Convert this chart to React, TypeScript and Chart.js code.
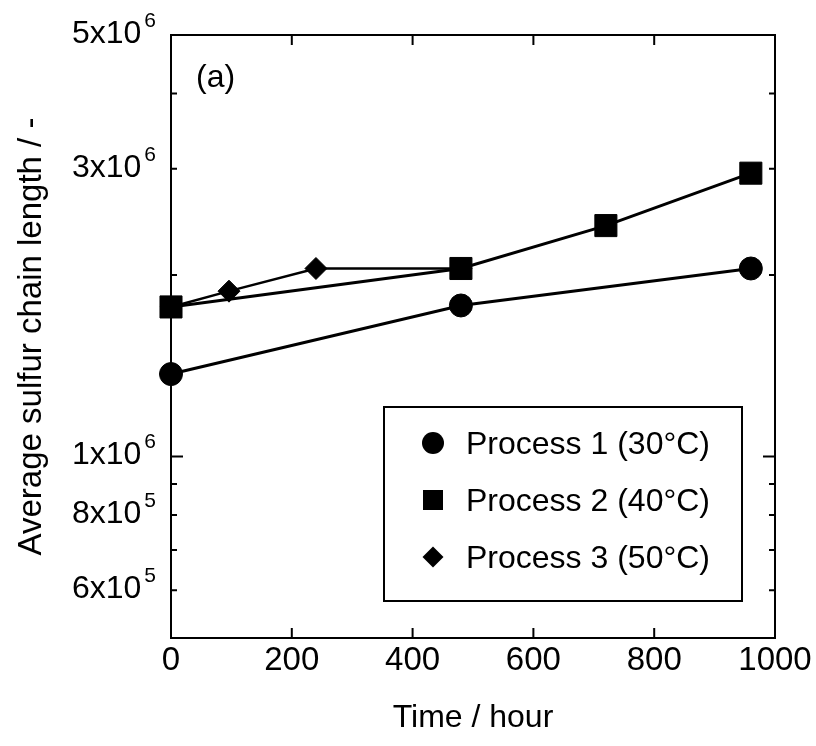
import React, { useEffect, useRef } from 'react';
import { Chart, registerables } from 'chart.js';

Chart.register(...registerables);

// ---- data ----
const hours1 = [0, 480, 960];
const process1 = [1.37e6, 1.78e6, 2.05e6];
const hours2 = [0, 480, 720, 960];
const process2 = [1.77e6, 2.05e6, 2.415e6, 2.95e6];
const hours3 = [0, 96, 240, 480];
const process3 = [1.77e6, 1.88e6, 2.05e6, 2.05e6];
const seriesLabels = ['Process 1 (30°C)', 'Process 2 (40°C)', 'Process 3 (50°C)'];
const seriesStyles = ['circle', 'rect', 'rectRot'];

const xTickValues = [0, 200, 400, 600, 800, 1000];
const yLabelValues = [6e5, 8e5, 1e6, 3e6, 5e6];
const yMajorTicks = [1e6];
const yMinorTicks = [6e5, 7e5, 8e5, 9e5, 2e6, 3e6, 4e6];
const panelTag = '(a)';
const xTitle = 'Time / hour';
const yTitle = 'Average sulfur chain length / -';

const FONT = '"Liberation Sans", Arial, Helvetica, sans-serif';

function drawMarker(ctx: CanvasRenderingContext2D, style: string, x: number, y: number, r: number) {
  ctx.beginPath();
  if (style === 'circle') {
    ctx.arc(x, y, r, 0, Math.PI * 2);
  } else if (style === 'rect') {
    ctx.rect(x - r, y - r, 2 * r, 2 * r);
  } else {
    ctx.moveTo(x - r, y);
    ctx.lineTo(x, y - r);
    ctx.lineTo(x + r, y);
    ctx.lineTo(x, y + r);
    ctx.closePath();
  }
  ctx.fill();
}

const framePlugin = {
  id: 'framePlugin',
  beforeDatasetsDraw(chart: any) {
    const { ctx, chartArea: a, scales } = chart;
    const xs = scales.x;
    const ys = scales.y;
    ctx.save();
    ctx.strokeStyle = '#000';
    ctx.lineWidth = 2;
    ctx.strokeRect(a.left, a.top, a.right - a.left, a.bottom - a.top);
    ctx.beginPath();
    for (const v of xTickValues) {
      if (v <= xs.min || v >= xs.max) continue;
      const px = xs.getPixelForValue(v);
      ctx.moveTo(px, a.bottom);
      ctx.lineTo(px, a.bottom - 10);
      ctx.moveTo(px, a.top);
      ctx.lineTo(px, a.top + 10);
    }
    for (const v of yMajorTicks) {
      const py = ys.getPixelForValue(v);
      ctx.moveTo(a.left, py);
      ctx.lineTo(a.left + 12, py);
      ctx.moveTo(a.right, py);
      ctx.lineTo(a.right - 12, py);
    }
    for (const v of yMinorTicks) {
      const py = ys.getPixelForValue(v);
      ctx.moveTo(a.left, py);
      ctx.lineTo(a.left + 6, py);
      ctx.moveTo(a.right, py);
      ctx.lineTo(a.right - 6, py);
    }
    ctx.stroke();
    ctx.restore();
  },
  afterDraw(chart: any) {
    const { ctx, scales } = chart;
    const ys = scales.y;
    ctx.save();
    ctx.fillStyle = '#000';
    // y tick labels with superscript exponent
    for (const v of yLabelValues) {
      const exp = Math.floor(Math.log10(v) + 1e-9);
      const mant = Math.round(v / Math.pow(10, exp));
      const py = ys.getPixelForValue(v);
      ctx.font = `21px ${FONT}`;
      const supText = String(exp);
      const supW = ctx.measureText(supText).width;
      const rightEdge = 156;
      ctx.textAlign = 'left';
      ctx.textBaseline = 'alphabetic';
      ctx.fillText(supText, rightEdge - supW, py - 8);
      ctx.font = `32px ${FONT}`;
      ctx.textAlign = 'right';
      ctx.fillText(`${mant}x10`, rightEdge - supW - 3, py + 8);
    }
    // panel tag
    ctx.font = `32px ${FONT}`;
    ctx.textAlign = 'left';
    ctx.textBaseline = 'alphabetic';
    ctx.fillText(panelTag, 196, 87);

    // legend box
    const lx = 384, ly = 407, lw = 358, lh = 194;
    ctx.fillStyle = '#fff';
    ctx.fillRect(lx, ly, lw, lh);
    ctx.strokeStyle = '#000';
    ctx.lineWidth = 2;
    ctx.strokeRect(lx, ly, lw, lh);
    ctx.fillStyle = '#000';
    const rows = [443, 500, 557];
    const sizes: Record<string, number> = { circle: 11, rect: 10, rectRot: 10.5 };
    chart.data.datasets.forEach((ds: any, i: number) => {
      const y = rows[i];
      drawMarker(ctx, ds.pointStyle, 433, y, sizes[ds.pointStyle]);
      ctx.font = `32px ${FONT}`;
      ctx.textAlign = 'left';
      ctx.textBaseline = 'alphabetic';
      ctx.fillText(ds.label, 466, y + 11);
    });
    ctx.restore();
  },
};

export default function App() {
  const canvasRef = useRef<HTMLCanvasElement | null>(null);

  useEffect(() => {
    const canvas = canvasRef.current;
    if (!canvas) return;
    const mk = (hs: number[], vs: number[]) => hs.map((h, i) => ({ x: h, y: vs[i] }));
    const chart = new Chart(canvas, {
      type: 'line',
      data: {
        datasets: [
          {
            label: seriesLabels[0],
            data: mk(hours1, process1),
            borderColor: '#000',
            backgroundColor: '#000',
            borderWidth: 3,
            pointStyle: seriesStyles[0],
            pointRadius: 11.5,
            pointBorderWidth: 1,
            pointBorderColor: '#000',
            pointBackgroundColor: '#000',
            order: 1,
            clip: false,
          } as any,
          {
            label: seriesLabels[1],
            data: mk(hours2, process2),
            borderColor: '#000',
            backgroundColor: '#000',
            borderWidth: 3,
            pointStyle: seriesStyles[1],
            pointRadius: 15.6,
            pointBorderWidth: 1,
            pointBorderColor: '#000',
            pointBackgroundColor: '#000',
            order: 2,
            clip: false,
          } as any,
          {
            label: seriesLabels[2],
            data: mk(hours3, process3),
            borderColor: '#000',
            backgroundColor: '#000',
            borderWidth: 2.5,
            pointStyle: seriesStyles[2],
            pointRadius: 11,
            pointBorderWidth: 1,
            pointBorderColor: '#000',
            pointBackgroundColor: '#000',
            order: 3,
            clip: false,
          } as any,
        ],
      },
      options: {
        responsive: false,
        animation: false,
        devicePixelRatio: 1,
        layout: { padding: { top: 35, right: 41, bottom: 0, left: 0 } },
        plugins: {
          legend: { display: false },
          tooltip: { enabled: false },
        },
        events: [],
        scales: {
          x: {
            type: 'linear',
            min: 0,
            max: 1000,
            grid: { display: false, drawTicks: false },
            border: { display: false },
            ticks: {
              stepSize: 200,
              color: '#000',
              font: { size: 33, family: FONT },
              padding: 3,
              maxRotation: 0,
              autoSkip: false,
              callback: (v: any) => String(v),
            },
            title: {
              display: true,
              text: xTitle,
              color: '#000',
              font: { size: 32, family: FONT },
              padding: { top: 0, bottom: 9 },
            },
            afterFit: (s: any) => {
              s.height = 108;
            },
          },
          y: {
            type: 'logarithmic',
            min: 5e5,
            max: 5e6,
            grid: { display: false, drawTicks: false },
            border: { display: false },
            ticks: { display: false },
            title: {
              display: true,
              text: yTitle,
              color: '#000',
              font: { size: 33, family: FONT },
              padding: { top: 12, bottom: 0 },
            },
            afterFit: (s: any) => {
              s.width = 171;
            },
          },
        },
      } as any,
      plugins: [framePlugin],
    });
    return () => chart.destroy();
  }, []);

  return (
    <div style={{ position: 'fixed', left: 0, top: 0, width: 816, height: 746, background: '#fff' }}>
      <canvas ref={canvasRef} width={816} height={746} style={{ display: 'block', width: 816, height: 746 }} />
    </div>
  );
}
